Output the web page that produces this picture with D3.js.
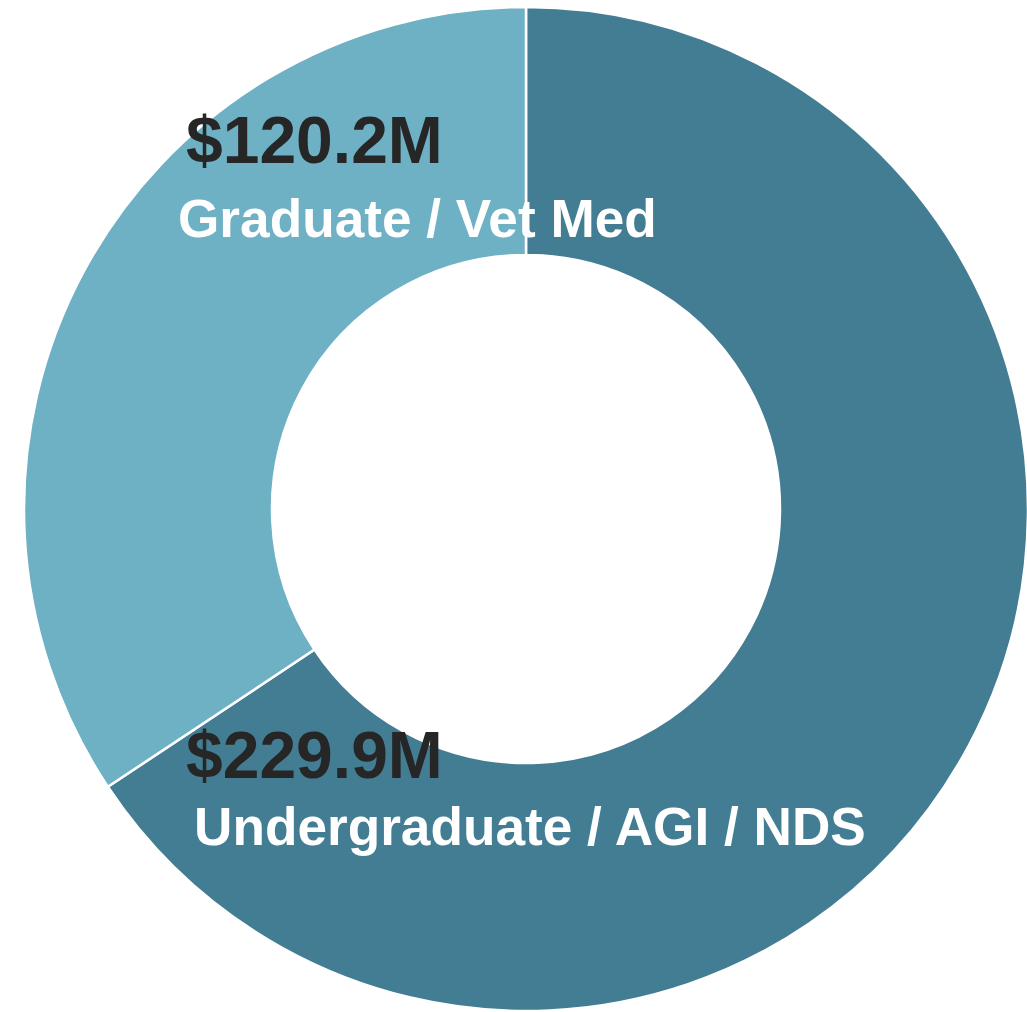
<!DOCTYPE html>
<html><head><meta charset="utf-8">
<script src="https://cdn.jsdelivr.net/npm/d3@7"></script>
<style>html,body{margin:0;padding:0;background:#fff;overflow:hidden}</style>
</head><body>
<script>
const categories = ["Undergraduate / AGI / NDS", "Graduate / Vet Med"];
const values = [229.9, 120.2];
const valueLabels = ["$229.9M", "$120.2M"];
const colors = ["#437d93", "#6eb0c4"];

const W = 1027, H = 1012;
const cx = 526, cy = 509, rOut = 502, rIn = 254;

const svg = d3.select("body").append("svg").attr("width", W).attr("height", H);
const g = svg.append("g").attr("transform", `translate(${cx},${cy})`);

const data = categories.map((c, i) => ({cat: c, value: values[i], label: valueLabels[i], color: colors[i]}));
const pie = d3.pie().value(d => d.value).sort(null);
const arc = d3.arc().innerRadius(rIn).outerRadius(rOut);

g.selectAll("path").data(pie(data)).join("path")
  .attr("d", arc)
  .attr("fill", d => d.data.color)
  .attr("stroke", "#fff")
  .attr("stroke-width", 2.5);

// label positions (relative to top-left of page)
const pos = [
  {vx: 186, vy: 778, lx: 194, ly: 845},
  {vx: 186, vy: 163, lx: 178, ly: 237}
];
const font = "'Liberation Sans', Arial, sans-serif";
data.forEach((d, i) => {
  svg.append("text").attr("x", pos[i].vx).attr("y", pos[i].vy)
    .attr("font-family", font).attr("font-weight", "bold").attr("font-size", 66)
    .attr("fill", "#262626").text(d.label);
  svg.append("text").attr("x", pos[i].lx).attr("y", pos[i].ly)
    .attr("font-family", font).attr("font-weight", "bold").attr("font-size", 53.2)
    .attr("fill", "#fff").text(d.cat);
});
</script>
</body></html>
